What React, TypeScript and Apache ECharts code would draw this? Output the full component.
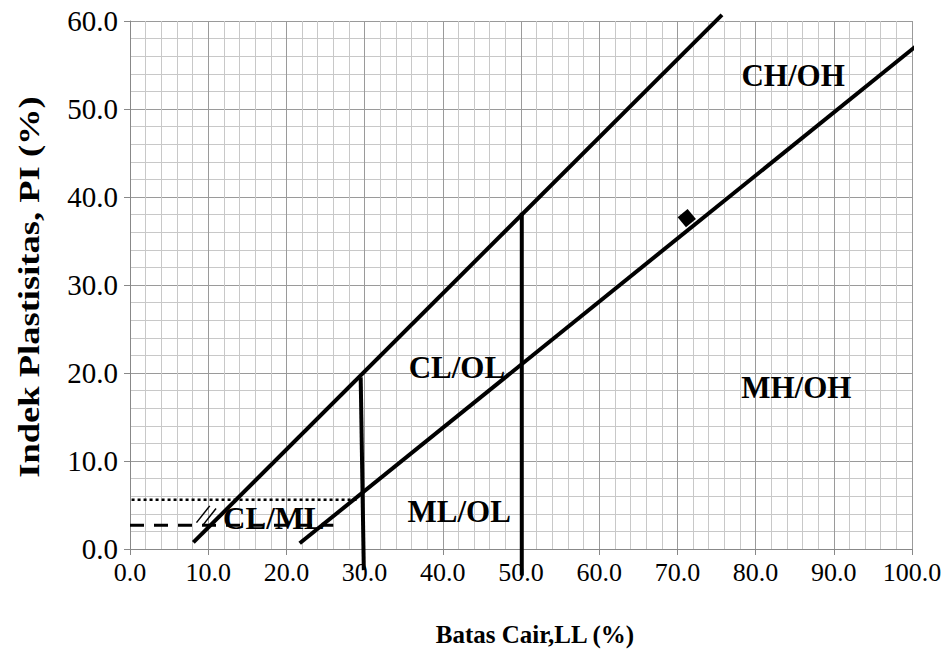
import React, { useEffect, useRef } from "react";
import * as echarts from "echarts";

const xTicks = [0, 10, 20, 30, 40, 50, 60, 70, 80, 90, 100];
const yTicks = [0, 10, 20, 30, 40, 50, 60];

// U-line, A-line and boundaries [LL, PI]
const uLine = [[8.1, 0.75], [75.7, 60.7]];
const aLine = [[21.7, 0.65], [101, 57.5]];
const vLine30 = [[29.5, 19.5], [29.9, -2.4]];
const vLine50 = [[50.1, 38.2], [50.1, -3.0]];
const dottedLine = [[0.2, 5.6], [29.3, 5.6]];
const dashedLine = [[0, 2.7], [26, 2.7]];
const hatchA = [[8.5, 3.0], [10.2, 4.9]];
const hatchB = [[9.4, 2.8], [11.0, 4.6]];
const samplePoint = [[71.2, 37.6]];

const zoneNames = ["CH/OH", "MH/OH", "CL/OL", "ML/OL", "CL/ML"];
const zonePos = [[84.8, 53.8], [85.2, 18.4], [41.8, 20.6], [42.1, 4.3], [18.4, 3.5]];

const xTitle = "Batas Cair,LL (%)";
const yTitle = "Indek Plastisitas, PI (%)";

const FONT = "Liberation Serif, Times New Roman, serif";

export default function App() {
  const ref = useRef<HTMLDivElement>(null);
  useEffect(() => {
    const chart = echarts.init(ref.current!, null, { renderer: "svg" });
    const thick = (data: number[][], w = 4, type: any = "solid") => ({
      type: "line",
      data,
      symbol: "none",
      clip: false,
      silent: true,
      z: 5,
      lineStyle: { color: "#000", width: w, type },
    });
    chart.setOption({
      animation: false,
      backgroundColor: "#fff",
      textStyle: { fontFamily: FONT },
      grid: { left: 130, right: 34, top: 21, bottom: 99 },
      graphic: [
        {
          type: "text",
          x: 29,
          y: 287,
          rotation: Math.PI / 2,
          scaleX: 1.26,
          style: {
            text: yTitle,
            fontFamily: FONT,
            fontSize: 29,
            fontWeight: "bold",
            fill: "#000",
            textAlign: "center",
            textVerticalAlign: "middle",
          },
        },
      ],
      xAxis: {
        type: "value",
        min: xTicks[0],
        max: xTicks[xTicks.length - 1],
        interval: 10,
        name: xTitle,
        nameLocation: "middle",
        nameGap: 73,
        nameTextStyle: { fontFamily: FONT, fontSize: 25, fontWeight: "bold", color: "#000", padding: [0, 0, 0, 28] },
        axisLine: { show: true, lineStyle: { color: "#888", width: 1 } },
        axisTick: { show: true, length: 6, lineStyle: { color: "#888" } },
        axisLabel: { fontFamily: FONT, fontSize: 26, color: "#000", margin: 10, formatter: (v: number) => v.toFixed(1) },
        splitLine: { show: true, lineStyle: { color: "#9a9a9a", width: 1 } },
        minorSplitLine: { show: true, lineStyle: { color: "#c8c8c8", width: 1 } },
        minorTick: { show: false, splitNumber: 5 },
      },
      yAxis: {
        type: "value",
        min: yTicks[0],
        max: yTicks[yTicks.length - 1],
        interval: 10,
        axisLine: { show: true, lineStyle: { color: "#888", width: 1 } },
        axisTick: { show: true, length: 6, lineStyle: { color: "#888" } },
        axisLabel: { fontFamily: FONT, fontSize: 29, color: "#000", margin: 12, formatter: (v: number) => v.toFixed(1) },
        splitLine: { show: true, lineStyle: { color: "#9a9a9a", width: 1 } },
        minorSplitLine: { show: true, lineStyle: { color: "#c8c8c8", width: 1 } },
        minorTick: { show: false, splitNumber: 5 },
      },
      series: [
        {
          type: "scatter",
          data: samplePoint,
          symbol: "rect",
          symbolSize: 13,
          symbolRotate: 40,
          itemStyle: { color: "#000", opacity: 1 },
          z: 3,
          silent: true,
        },
        thick(uLine),
        thick(aLine),
        thick(vLine30),
        thick(vLine50),
        thick(dottedLine, 2.5, [3, 3]),
        thick(dashedLine, 3, [14, 10]),
        thick(hatchA, 1.5),
        thick(hatchB, 1.5),
        {
          type: "scatter",
          data: zonePos.map((p, i) => ({ value: p, name: zoneNames[i] })),
          symbolSize: 0,
          silent: true,
          z: 10,
          itemStyle: { opacity: 1, color: "#000" },
          label: {
            show: true,
            position: "inside",
            formatter: (p: any) => p.name,
            fontFamily: FONT,
            fontSize: 31,
            fontWeight: "bold",
            color: "#000",
            opacity: 1,
          },
        },
      ],
    });
    return () => chart.dispose();
  }, []);
  return <div ref={ref} style={{ width: 946, height: 652, position: "absolute", left: 0, top: 0 }} />;
}
